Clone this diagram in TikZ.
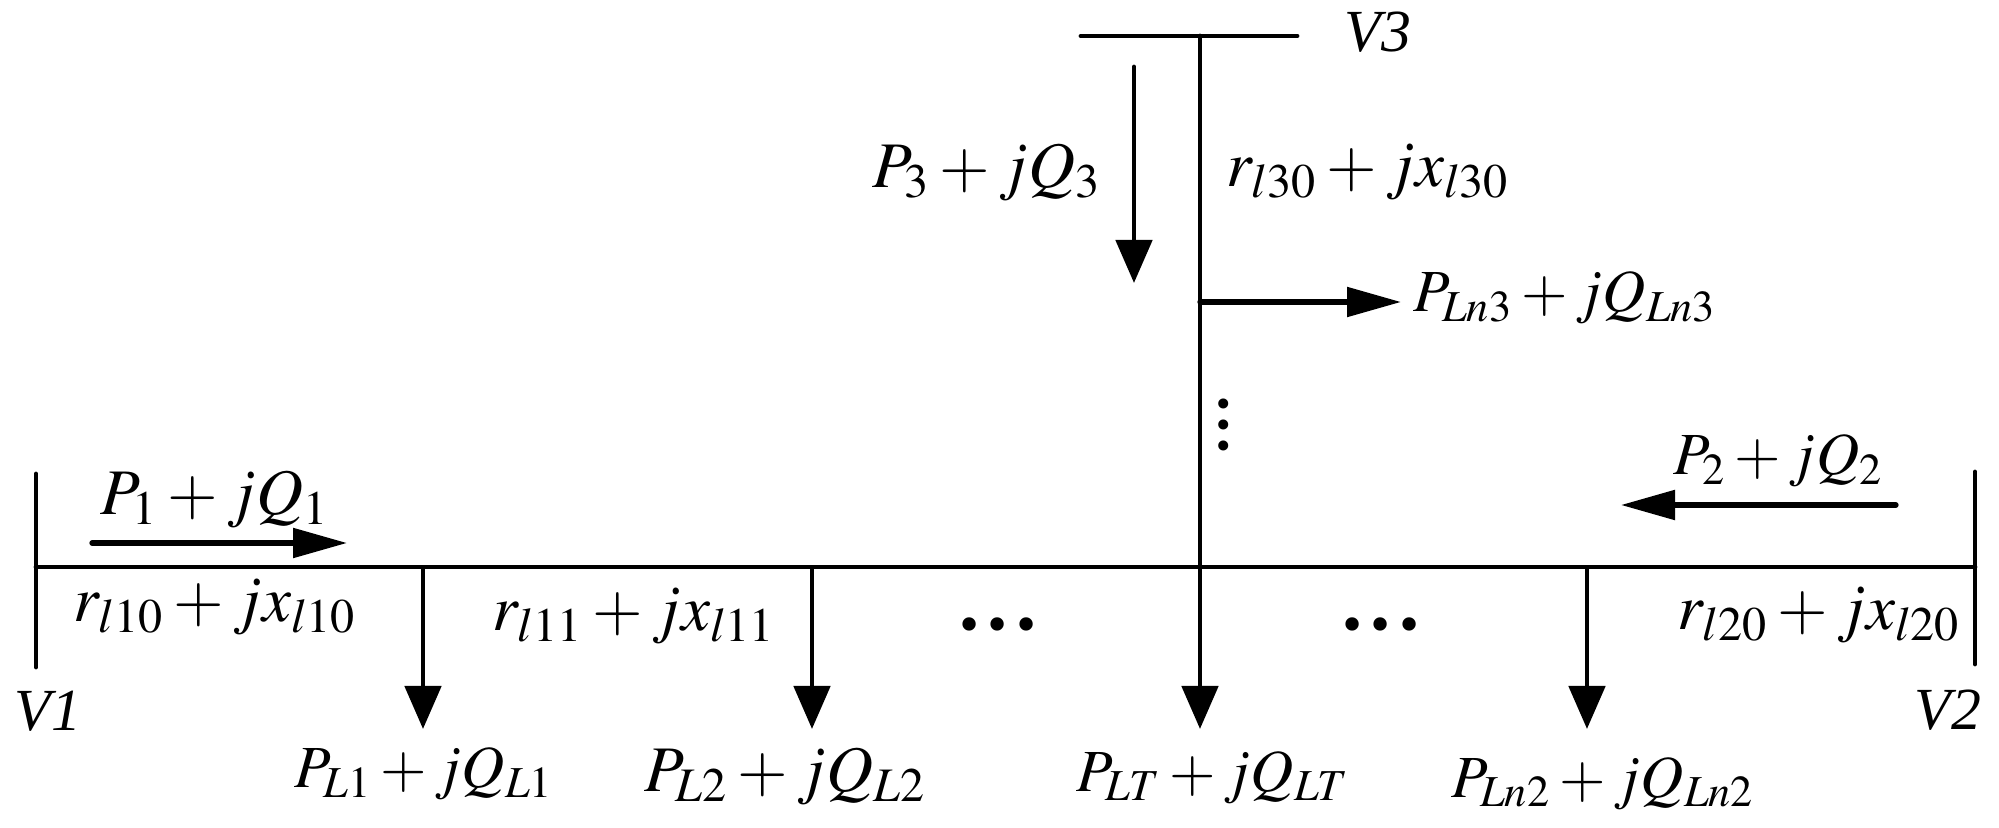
\documentclass[tikz,border=0pt]{standalone}
\usepackage{mathptmx}
\usepackage{fontspec}
\setmainfont{Liberation Serif}
\usetikzlibrary{arrows.meta}
\tikzset{
	lbl/.style={anchor=base,inner sep=0pt,font=\fontsize{17}{20}\selectfont},
	wide/.style={lbl,font=\fontsize{18.5}{20}\selectfont},
	dots/.style={anchor=base,inner sep=0pt,font=\fontsize{32}{32}\selectfont},
	bus/.style={line width=1.4pt,line cap=round},
	load/.style={line width=1.4pt,-{Triangle[length=4.3mm,width=3.6mm]}},
	flow/.style={line width=1.5pt,line cap=round,-{Triangle[length=5.4mm,width=2.9mm]}},
}
\begin{document}
\begin{tikzpicture}
	\useasboundingbox (0,0) rectangle (19.99,8.28);
	\coordinate (J1) at (0.36,2.61); % left end of the line
	\coordinate (J2) at (19.75,2.61); % right end of the line
	\coordinate (JT) at (12.00,2.61); % tee point
	\coordinate (J3) at (12.00,7.92); % top of the branch
	\draw [bus] (0.36,3.54) coordinate (V1top) -- (0.36,1.61) coordinate (V1bot); % bus V1
	\draw [bus] (19.75,3.56) coordinate (V2top) -- (19.75,1.64) coordinate (V2bot); % bus V2
	\draw [bus] (10.81,7.92) coordinate (V3left) -- (12.97,7.92) coordinate (V3right); % bus V3
	\draw [bus] (J1) -- (J2); % main line
	\draw [bus] (J3) -- (JT); % branch line
	\coordinate (T1) at (4.23,2.61); % tap of load 1
	\coordinate (T2) at (8.12,2.61); % tap of load 2
	\coordinate (T4) at (15.87,2.61); % tap of load n2
	\coordinate (T5) at (12.00,5.26); % tap of load n3
	\draw [load] (T1) -- (4.23,0.99) coordinate (E1); % load 1
	\draw [load] (T2) -- (8.12,0.99) coordinate (E2); % load 2
	\draw [load] (JT) -- (12.00,0.99) coordinate (E3); % load T
	\draw [load] (T4) -- (15.87,0.99) coordinate (E4); % load n2
	\draw [flow] (T5) -- (14.01,5.26) coordinate (E5); % load n3
	\draw [flow] (0.92,2.85) coordinate (S1) -- (3.47,2.85) coordinate (F1); % power P1
	\draw [flow] (18.96,3.23) coordinate (S2) -- (16.21,3.23) coordinate (F2); % power P2
	\draw [load,line cap=round] (11.34,7.61) coordinate (S3) -- (11.34,5.45) coordinate (F3); % power P3
	\node [lbl] (V1) at (0.48,0.97) {\textit{V1}};
	\node [lbl] (V2) at (19.48,0.98) {\textit{V2}};
	\node [lbl] (V3) at (13.78,7.76) {\textit{V3}};
	\node [wide] (P1) at (2.15,3.13) {$P_1+jQ_1$};
	\node [lbl] (P2) at (17.78,3.53) {$P_2+jQ_2$};
	\node [wide] (P3) at (9.87,6.40) {$P_3+jQ_3$};
	\node [wide] (R10) at (2.15,2.06) {$r_{l10}+jx_{l10}$};
	\node [wide] (R11) at (6.34,1.97) {$r_{l11}+jx_{l11}$};
	\node [wide] (R20) at (18.19,1.98) {$r_{l20}+jx_{l20}$};
	\node [wide] (R30) at (13.68,6.41) {$r_{l30}+jx_{l30}$};
	\node [lbl] (L1) at (4.24,0.40) {$P_{L1}+jQ_{L1}$};
	\node [wide] (L2) at (7.85,0.36) {$P_{L2}+jQ_{L2}$};
	\node [lbl] (LT) at (12.13,0.36) {$P_{LT}+jQ_{LT}$};
	\node [lbl] (Ln2) at (16.03,0.31) {$P_{Ln2}+jQ_{Ln2}$};
	\node [lbl] (Ln3) at (15.65,5.16) {$P_{Ln3}+jQ_{Ln3}$};
	\node [dots] (D1) at (9.98,1.98) {...};
	\node [dots] (D2) at (13.81,1.98) {...};
	\node [dots,font=\fontsize{24}{24}\selectfont,rotate=90] (D3) at (12.27,4.03) {...};
\end{tikzpicture}
\end{document}
